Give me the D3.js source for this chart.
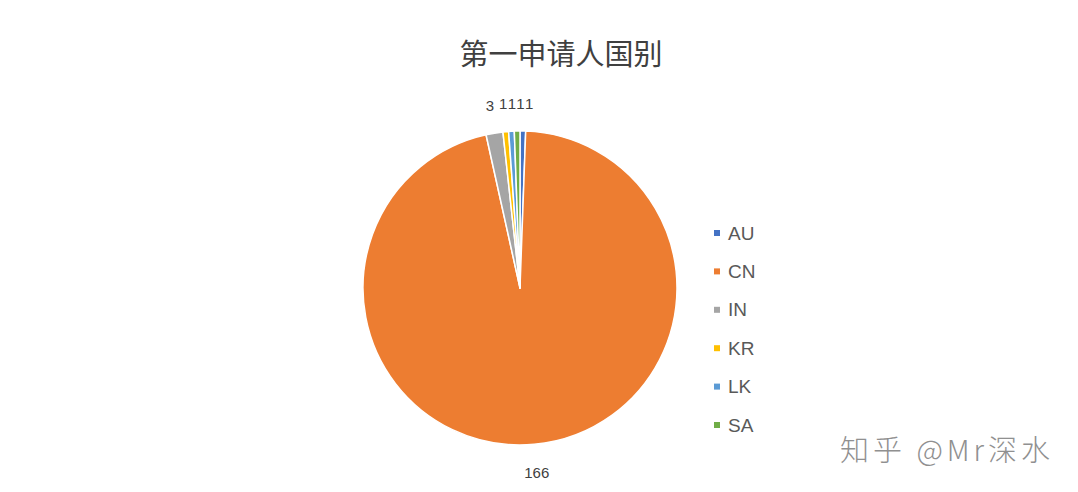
<!DOCTYPE html>
<html><head><meta charset="utf-8">
<script src="https://cdn.jsdelivr.net/npm/d3@7/dist/d3.min.js"></script>
<style>html,body{margin:0;padding:0;background:#fff;}svg{display:block;}</style>
</head><body>
<svg id="c" width="1078" height="492"></svg>
<script>
const categories = ["AU","CN","IN","KR","LK","SA"];
const values = [1,166,3,1,1,1];
const colors = ["#4472C4","#ED7D31","#A5A5A5","#FFC000","#5B9BD5","#70AD47"];
const title = "第一申请人国别";

(function(){
const svg = d3.select("#c");
const W = 1078, H = 492;
const cx = 520, cy = 288, R = 157;

svg.append("rect").attr("width",W).attr("height",H).attr("fill","#fff");

svg.append("text").attr("x",561).attr("y",65).attr("text-anchor","middle")
  .attr("font-family","'Noto Sans CJK SC',sans-serif").attr("font-size",29)
  .attr("fill","#404040").text(title);

const data = categories.map((c,i)=>({cat:c,value:values[i],color:colors[i]}));
const pie = d3.pie().value(d=>d.value).sort(null);
const arcs = pie(data);
const arc = d3.arc().innerRadius(0).outerRadius(R);
const g = svg.append("g").attr("transform",`translate(${cx},${cy})`);
g.selectAll("path").data(arcs).join("path")
  .attr("d",arc).attr("fill",d=>d.data.color)
  .attr("stroke","#fff").attr("stroke-width",1.5).attr("stroke-linejoin","round");

// label positions from arc centroids, then a small horizontal de-overlap pass
const fs = 15;
const labelArc = d3.arc().innerRadius(R+28).outerRadius(R+28);
const labels = arcs.map(d=>{const [x,y]=labelArc.centroid(d);
  const txt=String(d.data.value); return {d,x,y,txt,w:txt.length*fs*0.556};});
const upper = labels.filter(l=>l.y<0).sort((a,b)=>a.x-b.x);
for(let i=1;i<upper.length;i++){
  const p=upper[i-1], q=upper[i];
  const minGap=(p.w+q.w)/2+0.3;
  if(q.x-p.x<minGap) q.x=p.x+minGap;
}
g.selectAll("text.lbl").data(labels).join("text").attr("class","lbl")
  .attr("x",l=>l.x).attr("y",l=>l.y)
  .attr("text-anchor","middle").attr("dominant-baseline","central")
  .attr("font-family","'Liberation Sans',Arial,sans-serif").attr("font-size",fs)
  .attr("fill","#404040").text(l=>l.txt);

const leg = svg.append("g");
const legY = d3.scalePoint().domain(categories).range([233,425]);
const items = leg.selectAll("g").data(data).join("g")
  .attr("transform",d=>`translate(717,${legY(d.cat)})`);
items.append("rect").attr("x",-3).attr("y",-3).attr("width",6).attr("height",6).attr("fill",d=>d.color);
items.append("text").attr("x",11).attr("y",0).attr("dominant-baseline","central")
  .attr("font-family","'Liberation Sans',Arial,sans-serif").attr("font-size",19)
  .attr("fill","#595959").text(d=>d.cat);

svg.append("text").attr("x",840).attr("y",461)
  .attr("font-family","'Noto Sans CJK SC',sans-serif").attr("font-size",29).attr("font-weight",300)
  .attr("fill","#909090").attr("textLength",210).attr("lengthAdjust","spacing")
  .text("知乎 @Mr深水");
})();
</script>
</body></html>
